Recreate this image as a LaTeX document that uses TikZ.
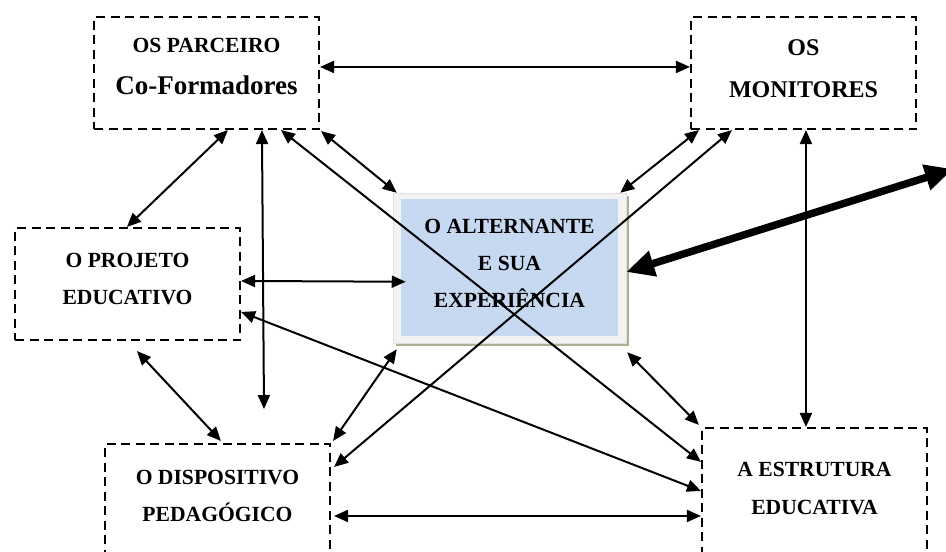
\documentclass[tikz,border=0pt]{standalone}
\usepackage{fontspec}
\setmainfont{Liberation Serif}
\usetikzlibrary{arrows.meta,calc}
\definecolor{altblue}{HTML}{C6D9F1}
\definecolor{altgray}{HTML}{F2F2F2}
\definecolor{altshadow}{RGB}{170,178,145}
\begin{document}
\begin{tikzpicture}[x=1pt,y=-1pt,
  box/.style={draw, rectangle, dash pattern=on 9pt off 5.5pt, line width=2.1pt,
    inner sep=0pt, minimum width=225pt, minimum height=112pt},
  txt/.style={font=\bfseries\fontsize{21.6}{25}\selectfont, anchor=base, inner sep=0pt},
  bigtxt/.style={font=\bfseries\fontsize{27}{30}\selectfont, anchor=base, inner sep=0pt},
  midtxt/.style={font=\bfseries\fontsize{24}{28}\selectfont, anchor=base, inner sep=0pt},
  link/.style={line width=2pt, {Triangle[length=14pt,width=12pt]}-{Triangle[length=14pt,width=12pt]}},
  thicklink/.style={line width=7.5pt, {Triangle[length=28pt,width=25pt]}-{Triangle[length=28pt,width=25pt]}}
]
\useasboundingbox (0,0) rectangle (946,552);

% boxes
\node[box] (par) at (206.5,73) {};
\node[box] (mon) at (803.5,73) {};
\node[box] (proj) at (127.5,284) {};
\node[box, minimum height=126pt] (disp) at (217.5,507) {};
\node[box, minimum height=142pt] (estr) at (814.5,499) {};

% central box
\fill[altshadow] (396,196) rectangle (629,346);
\node[rectangle, fill=altgray, draw=altgray!92!black, line width=0.5pt, inner sep=0pt,
  minimum width=233pt, minimum height=150pt] (alt) at (509.5,268) {};
\fill[altblue] (401,199) rectangle (618,336);

% texts
\node[txt] (tpar1) at (206.5,52) {OS PARCEIRO};
\node[bigtxt] (tpar2) at (206.5,94) {Co-Formadores};
\node[midtxt] (tmon1) at (803.5,55) {OS};
\node[midtxt] (tmon2) at (803.5,97) {MONITORES};
\node[txt] (tproj1) at (127.5,267) {O PROJETO};
\node[txt] (tproj2) at (127.5,304) {EDUCATIVO};
\node[txt] (talt1) at (509.5,233) {O ALTERNANTE};
\node[txt] (talt2) at (509.5,270) {E SUA};
\node[txt] (talt3) at (509.5,307) {EXPERIÊNCIA};
\node[txt] (tdisp1) at (217.5,484) {O DISPOSITIVO};
\node[txt] (tdisp2) at (217.5,521) {PEDAGÓGICO};
\node[txt] (testr1) at (814.5,476) {A ESTRUTURA};
\node[txt] (testr2) at (814.5,514) {EDUCATIVA};

% free ends
\coordinate (vend) at (264,409);
\coordinate (far) at (953,169);

% connectors
\draw[link] ($(par.north east)+(0,51)$) -- ($(mon.north west)+(0,51)$);
\draw[link] ($(par.south west)+(135,0)$) -- ($(proj.north west)+(113,0)$);
\draw[link] ($(par.south west)+(169,0)$) -- (vend);
\draw[link] ($(par.south east)+(1,1)$) -- ($(alt.north west)+(4,0)$);
\draw[link] ($(par.south west)+(188,0)$) -- ($(estr.north west)+(0,35)$);
\draw[link] ($(mon.south west)+(9,0)$) -- ($(alt.north east)+(-6,0)$);
\draw[link] ($(mon.south west)+(42,0)$) -- ($(disp.north east)+(3,24)$);
\draw[link] ($(mon.south west)+(116,0)$) -- ($(estr.north west)+(105,0)$);
\draw[link] ($(proj.north east)+(0,54)$) -- ($(alt.north west)+(13,89)$);
\draw[link] ($(proj.north east)+(0,85)$) -- ($(estr.north west)+(0,64)$);
\draw[link] ($(proj.south west)+(123,10)$) -- ($(disp.north west)+(117,-2)$);
\draw[link] ($(alt.south west)+(4,6)$) -- ($(disp.north east)+(2,-2)$);
\draw[link] ($(alt.south east)+(1,9)$) -- ($(estr.north west)+(-2,-2)$);
\draw[link] ($(disp.north east)+(3,73)$) -- ($(estr.north west)+(0,89)$);

% thick arrow
\draw[thicklink] ($(alt.east)+(0,4)$) -- (far);
\end{tikzpicture}
\end{document}
